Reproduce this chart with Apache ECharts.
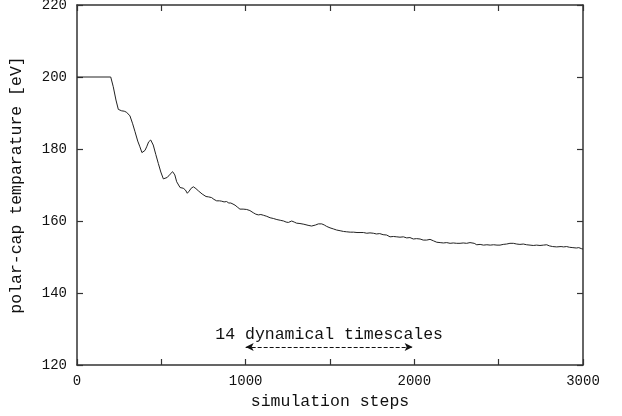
<!DOCTYPE html>
<html>
<head>
<meta charset="utf-8">
<script src="https://cdn.jsdelivr.net/npm/echarts@6/dist/echarts.min.js"></script>
<style>
  html, body { margin: 0; padding: 0; background: #fff; }
  #main { width: 622px; height: 416px; }
</style>
</head>
<body>
<div id="main"></div>
<script>
// simulation step and polar-cap temperature
var steps = [0, 200, 215, 231, 245, 265, 280, 294, 314, 330, 344, 360, 373, 385, 393, 403, 413, 425, 437, 452,
  467, 482, 497, 512, 523, 535, 552, 567, 580, 591, 611, 630, 643, 654, 665, 677, 690, 705, 719, 742,
  765, 780, 798, 812, 828, 845, 858, 872, 887, 900, 912, 925, 937, 950, 966, 985, 1006, 1025, 1045, 1060,
  1075, 1090, 1105, 1125, 1145, 1164, 1185, 1205, 1225, 1240, 1253, 1263, 1273, 1288, 1302, 1322, 1345, 1370, 1391, 1401,
  1415, 1431, 1451, 1466, 1480, 1500, 1520, 1539, 1560, 1580, 1599, 1620, 1640, 1660, 1678, 1698, 1718, 1737, 1757, 1775,
  1795, 1815, 1836, 1856, 1876, 1896, 1915, 1935, 1955, 1974, 1994, 2013, 2034, 2053, 2073, 2093, 2113, 2133, 2153, 2172,
  2192, 2212, 2231, 2251, 2271, 2290, 2310, 2330, 2340, 2355, 2370, 2390, 2410, 2430, 2450, 2470, 2490, 2508, 2527, 2547,
  2567, 2587, 2607, 2626, 2646, 2666, 2686, 2705, 2725, 2745, 2765, 2785, 2800, 2820, 2844, 2854, 2870, 2885, 2903, 2920,
  2940, 2960, 2975, 2992, 3000];
var temps = [200, 200, 197.3, 193.6, 191, 190.6, 190.5, 190.2, 189.2, 187, 184.8, 182.2, 180.6, 179.0, 178.8, 179.6, 180.6, 182.0, 182.5, 181.1,
  178.5, 176, 173.6, 171.7, 171.8, 172.1, 173.0, 173.7, 172.8, 170.9, 169.3, 169.1, 168.6, 167.7, 168.3, 169.1, 169.5, 169.0, 168.4, 167.5,
  166.8, 166.7, 166.5, 166.0, 165.6, 165.6, 165.5, 165.3, 165.4, 165.0, 165.0, 164.7, 164.4, 163.9, 163.3, 163.3, 163.2, 162.9, 162.3, 161.9,
  161.7, 161.8, 161.6, 161.3, 160.9, 160.7, 160.4, 160.2, 160.0, 159.7, 159.6, 159.8, 160.0, 159.7, 159.4, 159.3, 159.1, 158.8, 158.6, 158.6,
  158.9, 159.2, 159.2, 158.9, 158.5, 158.1, 157.8, 157.5, 157.3, 157.1, 157.0, 156.9, 156.9, 156.8, 156.8, 156.8, 156.6, 156.7, 156.6, 156.4,
  156.5, 156.2, 156.1, 155.6, 155.7, 155.6, 155.5, 155.6, 155.3, 155.4, 155.0, 155.1, 155.0, 154.7, 154.7, 154.9, 154.5, 154.1, 154.0, 153.9,
  154.0, 153.8, 153.9, 153.8, 153.8, 153.9, 153.8, 154.0, 154.1, 153.8, 153.4, 153.5, 153.3, 153.4, 153.3, 153.4, 153.3, 153.3, 153.5, 153.6,
  153.8, 153.8, 153.6, 153.5, 153.6, 153.4, 153.3, 153.2, 153.3, 153.2, 153.3, 153.4, 153.1, 152.9, 152.8, 152.6, 152.9, 152.8, 152.9, 152.7,
  152.6, 152.5, 152.6, 152.3, 152.2];

// annotation arrow: from / to step, and its level
var arrowSpan = [1000, 1990];
var arrowLevel = 125;
var arrowText = '14 dynamical timescales';

var monoFont = '"Liberation Mono", "DejaVu Sans Mono", monospace';
var frameColor = '#333';

var chart = echarts.init(document.getElementById('main'));

var points = [];
for (var i = 0; i < steps.length; i++) {
    points.push([steps[i], temps[i]]);
}

function frameAxis(extra) {
    var base = {
        type: 'value',
        axisLine: { show: true, onZero: false, lineStyle: { color: frameColor, width: 1.5 } },
        axisTick: { show: true, inside: true, length: 6, lineStyle: { color: frameColor, width: 1.2 } },
        splitLine: { show: false },
        axisLabel: { show: false }
    };
    return Object.assign(base, extra);
}

var option = {
    animation: false,
    backgroundColor: '#fff',
    grid: {
        left: 77,
        right: 39,
        top: 5,
        bottom: 51,
        outerBoundsMode: 'none'
    },
    xAxis: [
        frameAxis({
            min: 0, max: 3000, interval: 500, position: 'bottom',
            name: 'simulation steps',
            nameLocation: 'middle',
            nameGap: 28,
            nameTextStyle: { fontFamily: monoFont, fontSize: 16.5, color: '#111' },
            axisLabel: {
                show: true, margin: 9,
                fontFamily: monoFont, fontSize: 14, color: '#111',
                formatter: function (v) { return v % 1000 === 0 ? String(v) : ''; }
            }
        }),
        frameAxis({ min: 0, max: 3000, interval: 500, position: 'top' })
    ],
    yAxis: [
        frameAxis({
            min: 120, max: 220, interval: 20, position: 'left',
            name: 'polar-cap temparature [eV]',
            nameLocation: 'middle',
            nameGap: 52,
            nameTextStyle: { fontFamily: monoFont, fontSize: 16.5, color: '#111' },
            axisLabel: { show: true, margin: 10, fontFamily: monoFont, fontSize: 14, color: '#111' }
        }),
        frameAxis({ min: 120, max: 220, interval: 20, position: 'right' })
    ],
    series: [
        {
            type: 'line',
            data: points,
            xAxisIndex: 0,
            yAxisIndex: 0,
            showSymbol: false,
            symbol: 'none',
            lineStyle: { color: '#222', width: 1 },
            markLine: {
                silent: true,
                symbol: ['arrow', 'arrow'],
                symbolSize: [6, 8],
                lineStyle: { color: '#111', type: 'dashed', width: 1 },
                label: {
                    show: true,
                    position: 'insideMiddleTop',
                    distance: 4,
                    formatter: arrowText,
                    fontFamily: monoFont,
                    fontSize: 16.5,
                    color: '#111'
                },
                data: [[
                    { coord: [arrowSpan[0], arrowLevel] },
                    { coord: [arrowSpan[1], arrowLevel] }
                ]]
            }
        }
    ]
};

chart.setOption(option);
window.addEventListener('resize', chart.resize);
</script>
</body>
</html>
